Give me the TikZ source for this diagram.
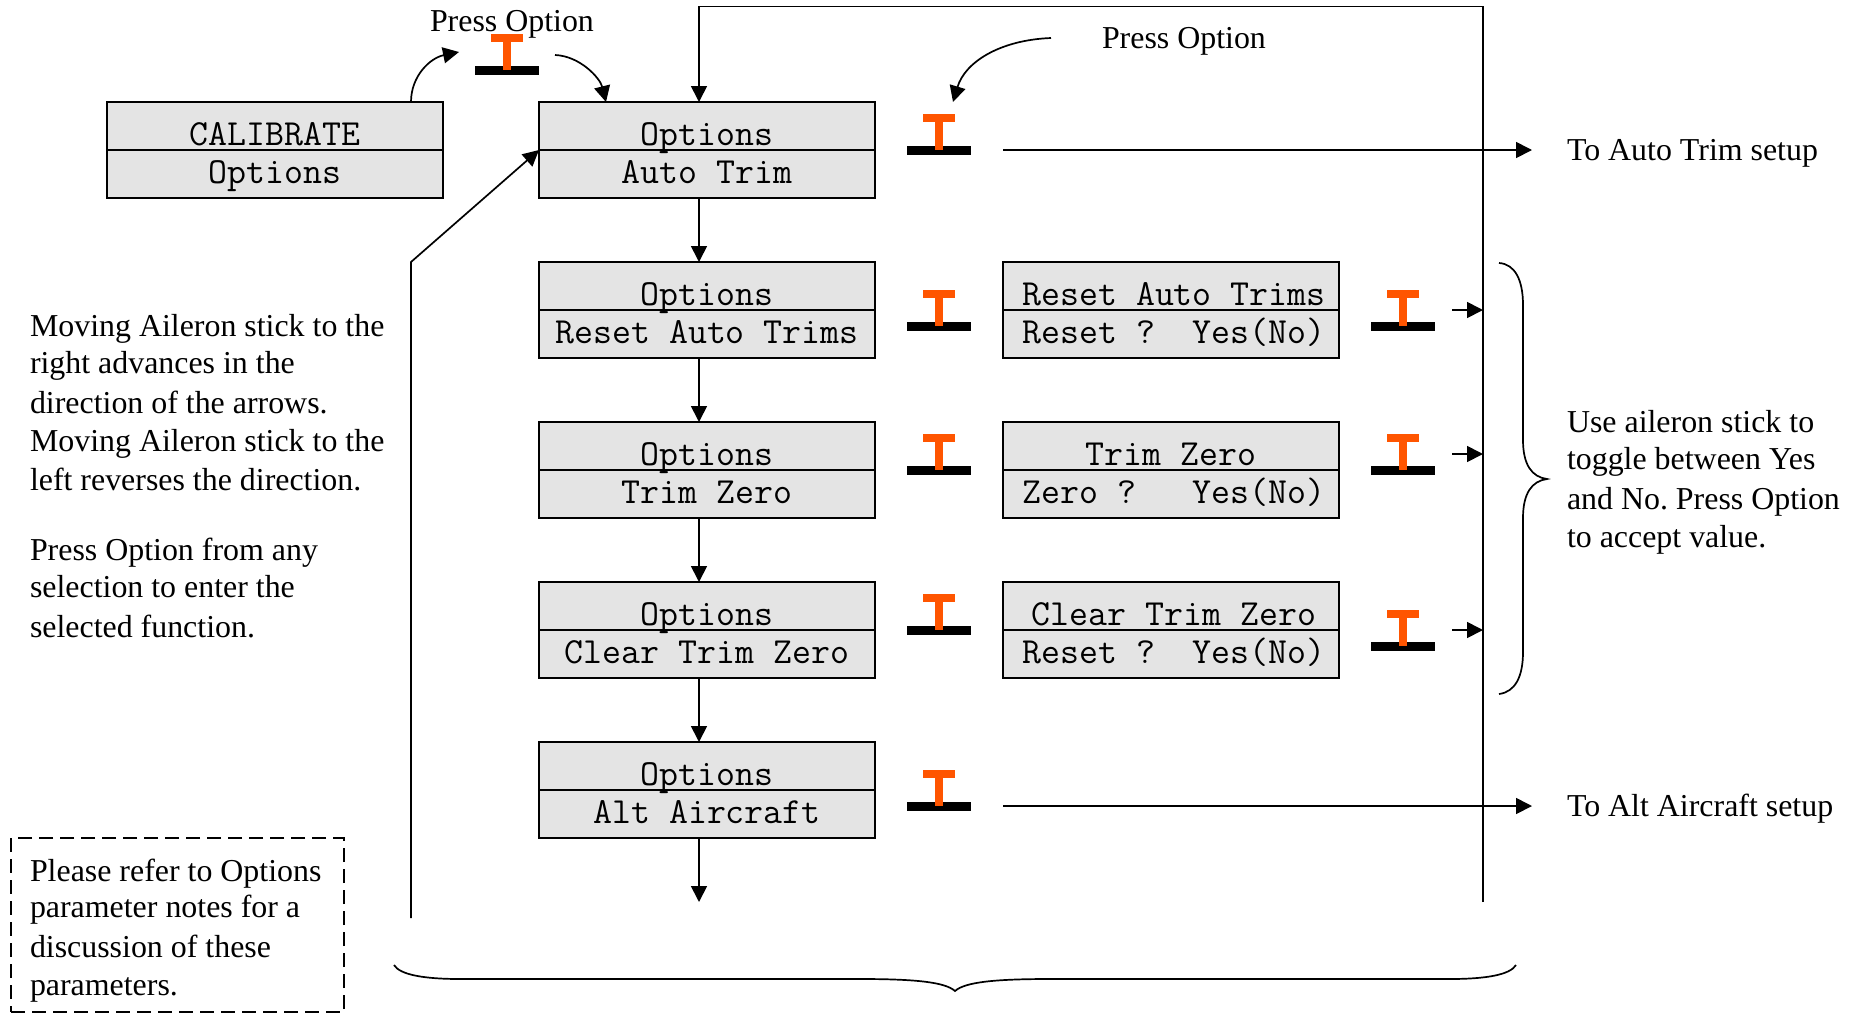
\documentclass[tikz,border=0pt]{standalone}
\usepackage{fontspec}
\setmainfont{Liberation Serif}
\usetikzlibrary{arrows.meta}
\definecolor{boxgray}{HTML}{E4E4E4}
\definecolor{btnorange}{HTML}{FF5500}
\tikzset{
  x=1pt,y=-1pt,
  line width=1.7pt,
  conn/.style={draw=black,line width=1.7pt,-{Triangle[length=16pt,width=16pt]}},
  plainline/.style={draw=black,line width=1.7pt},
  rowbox/.style={draw=black,fill=boxgray,line width=2pt,minimum width=336pt,inner sep=0pt,outer sep=0pt,
    font=\ttfamily\fontsize{36.8}{40}\selectfont},
  toprow/.style={rowbox,text height=43pt,text depth=5pt},
  lowrow/.style={rowbox,text height=33pt,text depth=15pt},
  txt/.style={anchor=base west,inner sep=0pt,outer sep=0pt,font=\frenchspacing\fontsize{31.9}{38}\selectfont},
  tbtn/.pic={
    \fill[black] (-32,-4.5) rectangle (32,4.5);
    \fill[btnorange] (-16,-36) rectangle (16,-28);
    \fill[btnorange] (-4,-36) rectangle (4,0);
  }
}
\begin{document}
\begin{tikzpicture}
\useasboundingbox (0,0) rectangle (1864,1013);
% lower rows first so that descenders of the upper rows stay visible
\node[lowrow] (c0) at (275,174) {Options};
\node[toprow] (c1) at (275,126) {CALIBRATE};
\node[lowrow] (a0) at (707,174) {Auto Trim};
\node[toprow] (a1) at (707,126) {Options};
\node[lowrow] (b0) at (707,334) {Reset Auto Trims};
\node[toprow] (b1) at (707,286) {Options};
\node[lowrow] (d0) at (707,494) {Trim Zero};
\node[toprow] (d1) at (707,446) {Options};
\node[lowrow] (e0) at (707,654) {Clear Trim Zero};
\node[toprow] (e1) at (707,606) {Options};
\node[lowrow] (f0) at (707,814) {Alt Aircraft};
\node[toprow] (f1) at (707,766) {Options};
\node[lowrow] (g0) at (1171,334) {\hspace*{6pt}Reset ?\ \ Yes(No)};
\node[toprow] (g1) at (1171,286) {\hspace*{6pt}Reset Auto Trims};
\node[lowrow] (h0) at (1171,494) {\hspace*{6pt}Zero ?\ \ \ Yes(No)};
\node[toprow] (h1) at (1171,446) {Trim Zero};
\node[lowrow] (i0) at (1171,654) {\hspace*{6pt}Reset ?\ \ Yes(No)};
\node[toprow] (i1) at (1171,606) {\hspace*{6pt}Clear Trim Zero};
% text
\node[txt] (p1) at (430,31) {Press Option};
\node[txt] (p2) at (1102,48) {Press Option};
\node[txt] (l1) at (30,336) {Moving Aileron stick to the};
\node[txt] (l2) at (30,373) {right advances in the};
\node[txt] (l3) at (30,413) {direction of the arrows.};
\node[txt] (l4) at (30,451) {Moving Aileron stick to the};
\node[txt] (l5) at (30,490) {left reverses the direction.};
\node[txt] (l6) at (30,560) {Press Option from any};
\node[txt] (l7) at (30,597) {selection to enter the};
\node[txt] (l8) at (30,637) {selected function.};
\node[txt] (n1) at (30,881) {Please refer to Options};
\node[txt] (n2) at (30,917) {parameter notes for a};
\node[txt] (n3) at (30,957) {discussion of these};
\node[txt] (n4) at (30,995) {parameters.};
\node[txt] (r1) at (1567,432) {Use aileron stick to};
\node[txt] (r2) at (1567,469) {toggle between Yes};
\node[txt] (r3) at (1567,509) {and No. Press Option};
\node[txt] (r4) at (1567,547) {to accept value.};
\node[txt] (toauto) at (1567,160) {To Auto Trim setup};
\node[txt] (toalt) at (1567,816) {To Alt Aircraft setup};
% dashed box
\node[draw=black,line width=2pt,dash pattern=on 14pt off 7pt,minimum width=333pt,minimum height=174pt,inner sep=0pt] (note) at (177.5,925) {};
% buttons
\pic at (507,70) {tbtn};
\pic at (939,150) {tbtn};
\pic at (939,326) {tbtn};
\pic at (939,470) {tbtn};
\pic at (939,630) {tbtn};
\pic at (939,806) {tbtn};
\pic at (1403,326) {tbtn};
\pic at (1403,470) {tbtn};
\pic at (1403,646) {tbtn};
% connector ends
\coordinate (topR) at (1483,6.5);
\coordinate (topL) at (699,6.5);
\coordinate (rightEnd) at (1483,902);
\coordinate (leftEnd) at (411,918);
\coordinate (leftBend) at (411,262);
\coordinate (fEnd) at (699,902);
\coordinate (btnIn) at (459,52);
\coordinate (btnOut) at (555,55);
\coordinate (p2from) at (1051,38);
\coordinate (p2to) at (953,102);
\coordinate (autoFrom) at (1003,150);
\coordinate (autoTo) at (1532,150);
\coordinate (altFrom) at (1003,806);
\coordinate (altTo) at (1532,806);
\coordinate (s1) at (1452,310);
\coordinate (s1e) at (1483,310);
\coordinate (s2) at (1452,454);
\coordinate (s2e) at (1483,454);
\coordinate (s3) at (1452,630);
\coordinate (s3e) at (1483,630);
% connectors
\draw[conn] ([xshift=-8pt]a0.south) -- ([xshift=-8pt]b1.north);
\draw[conn] ([xshift=-8pt]b0.south) -- ([xshift=-8pt]d1.north);
\draw[conn] ([xshift=-8pt]d0.south) -- ([xshift=-8pt]e1.north);
\draw[conn] ([xshift=-8pt]e0.south) -- ([xshift=-8pt]f1.north);
\draw[conn] ([xshift=-8pt]f0.south) -- (fEnd);
\draw[conn] (rightEnd) -- (topR) -- (topL) -- ([xshift=-8pt]a1.north);
\draw[conn] (leftEnd) -- (leftBend) -- (a1.south west);
\draw[conn] ([xshift=-32pt]c1.north east) .. controls (411,76) and (430,58) .. (btnIn);
\draw[conn] (btnOut) .. controls (580,56) and (600,78) .. ([xshift=-101pt]a1.north);
\draw[conn] (p2from) .. controls (1000,40) and (965,62) .. (p2to);
\draw[conn] (autoFrom) -- (autoTo);
\draw[conn] (altFrom) -- (altTo);
\draw[conn] (s1) -- (s1e);
\draw[conn] (s2) -- (s2e);
\draw[conn] (s3) -- (s3e);
% braces
\draw[plainline] (1499,263) .. controls (1515,264) and (1523,280) .. (1523,305) -- (1523,440)
  .. controls (1523,465) and (1532,477) .. (1547,479)
  .. controls (1532,481) and (1523,493) .. (1523,518) -- (1523,652)
  .. controls (1523,677) and (1515,692) .. (1499,694);
\draw[plainline] (394,965) .. controls (400,975) and (425,979) .. (460,979) -- (860,979)
  .. controls (915,979) and (945,982) .. (955,991)
  .. controls (965,982) and (995,979) .. (1050,979) -- (1450,979)
  .. controls (1485,979) and (1510,975) .. (1516,965);
\end{tikzpicture}
\end{document}
